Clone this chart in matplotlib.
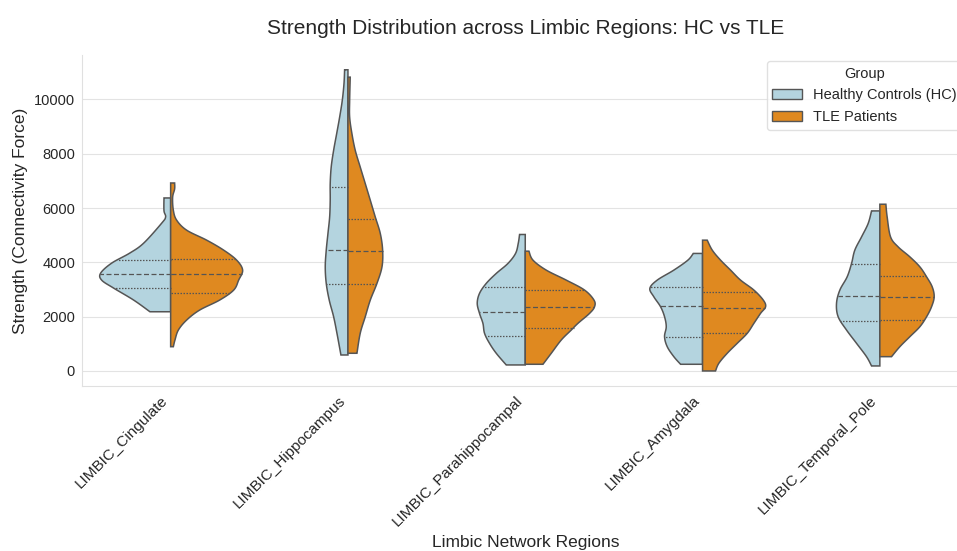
import matplotlib
matplotlib.use("Agg")
import matplotlib.pyplot as plt
from matplotlib.patches import Patch
import numpy as np
import seaborn as sns

# ── data ──────────────────────────────────────────────────────────────────────
REGIONS = [
    "LIMBIC_Cingulate",
    "LIMBIC_Hippocampus",
    "LIMBIC_Parahippocampal",
    "LIMBIC_Amygdala",
    "LIMBIC_Temporal_Pole",
]
GROUPS = ["Healthy Controls (HC)", "TLE Patients"]

# density profiles (strength level, relative density), top of range to bottom
CING_HC_Y = [6370, 5900, 5672, 5440, 4705, 4338, 3970, 3602, 3345, 3051, 2610, 2180]
CING_HC_D = [0.094, 0.094, 0.071, 0.127, 0.381, 0.578, 0.832, 0.987, 0.973, 0.804, 0.522, 0.292]
CING_TLE_Y = [6922, 6700, 6396, 5918, 5551, 5183, 4816, 4448, 4080, 3713, 3345,
              2978, 2610, 2242, 1875, 1507, 1140, 893]
CING_TLE_D = [0.056, 0.056, 0.028, 0.038, 0.085, 0.226, 0.508, 0.748, 0.931, 1.015,
              0.959, 0.889, 0.691, 0.409, 0.226, 0.109, 0.061, 0.038]

HIPP_HC_Y = [11090, 10576, 9962, 9348, 8738, 8124, 7510, 6900, 6286, 5672, 5062,
             4448, 3834, 3224, 2610, 1996, 1386, 588]
HIPP_HC_D = [0.047, 0.056, 0.080, 0.117, 0.159, 0.202, 0.236, 0.250, 0.250, 0.258,
             0.282, 0.306, 0.320, 0.306, 0.264, 0.202, 0.155, 0.099]
HIPP_TLE_Y = [10818, 9962, 9348, 8738, 8124, 7510, 6900, 6286, 5672, 5062, 4448,
              3834, 3224, 2610, 1996, 1386, 651]
HIPP_TLE_D = [0.032, 0.024, 0.024, 0.056, 0.103, 0.173, 0.244, 0.315, 0.385, 0.456,
              0.489, 0.480, 0.409, 0.315, 0.244, 0.173, 0.127]

PARA_HC_Y = [5025, 4694, 4327, 3959, 3591, 3224, 2856, 2489, 2121, 1753, 1386, 1018, 651, 221]
PARA_HC_D = [0.080, 0.099, 0.137, 0.244, 0.409, 0.550, 0.645, 0.677, 0.645, 0.597,
             0.574, 0.504, 0.409, 0.268]
PARA_TLE_Y = [4411, 4080, 3713, 3345, 2978, 2610, 2364, 2121, 1753, 1507, 1140, 651, 246]
PARA_TLE_D = [0.052, 0.109, 0.296, 0.578, 0.836, 0.969, 0.977, 0.907, 0.743, 0.649,
              0.508, 0.367, 0.250]

AMYG_HC_Y = [4327, 4080, 3713, 3345, 3040, 2731, 2364, 1996, 1628, 1261, 893, 526, 246]
AMYG_HC_D = [0.131, 0.207, 0.405, 0.639, 0.743, 0.687, 0.592, 0.536, 0.512, 0.536,
             0.498, 0.405, 0.310]
AMYG_TLE_Y = [4816, 4448, 4080, 3713, 3345, 2978, 2610, 2364, 2121, 1753, 1386,
              1018, 651, 283, 0]
AMYG_TLE_D = [0.066, 0.137, 0.254, 0.395, 0.536, 0.724, 0.856, 0.889, 0.818, 0.724,
              0.630, 0.489, 0.348, 0.230, 0.183]

TEMP_HC_Y = [5893, 5429, 4937, 4448, 3959, 3466, 2978, 2489, 1996, 1507, 1018, 526, 184]
TEMP_HC_D = [0.117, 0.165, 0.258, 0.353, 0.399, 0.461, 0.564, 0.611, 0.588, 0.470,
             0.329, 0.188, 0.117]
TEMP_TLE_Y = [6139, 5672, 4937, 4569, 4202, 3834, 3466, 3099, 2731, 2364, 1996,
              1628, 1261, 893, 526]
TEMP_TLE_D = [0.085, 0.103, 0.151, 0.258, 0.423, 0.564, 0.659, 0.738, 0.766, 0.729,
              0.659, 0.564, 0.423, 0.282, 0.165]

# quartiles (Q1, median, Q3) per region
HC_QUARTILES = [
    (3040, 3555, 4080),
    (3198, 4448, 6775),
    (1287, 2180, 3077),
    (1262, 2390, 3077),
    (1850, 2745, 3945),
]
TLE_QUARTILES = [
    (2855, 3555, 4105),
    (3187, 4411, 5588),
    (1592, 2342, 2978),
    (1386, 2316, 2904),
    (1886, 2709, 3503),
]

HC_PROFILES = [(CING_HC_Y, CING_HC_D), (HIPP_HC_Y, HIPP_HC_D), (PARA_HC_Y, PARA_HC_D),
               (AMYG_HC_Y, AMYG_HC_D), (TEMP_HC_Y, TEMP_HC_D)]
TLE_PROFILES = [(CING_TLE_Y, CING_TLE_D), (HIPP_TLE_Y, HIPP_TLE_D), (PARA_TLE_Y, PARA_TLE_D),
                (AMYG_TLE_Y, AMYG_TLE_D), (TEMP_TLE_Y, TEMP_TLE_D)]

# ── style ─────────────────────────────────────────────────────────────────────
sns.set_style("whitegrid", {"grid.color": "#e3e3e3", "axes.edgecolor": "#e0e0e0"})
plt.rcParams["font.family"] = ["Liberation Sans", "DejaVu Sans"]

HC_COL = sns.desaturate("lightblue", 0.75)
TLE_COL = sns.desaturate("darkorange", 0.75)
EDGE = "#555555"
HALF_W = 0.4


def smooth(ys, ds, n=12):
    """Catmull-Rom through the profile points."""
    P = np.column_stack([ys, ds]).astype(float)
    P = np.vstack([P[0], P, P[-1]])
    out = []
    t = np.linspace(0, 1, n, endpoint=False)[:, None]
    for i in range(1, len(P) - 2):
        p0, p1, p2, p3 = P[i - 1], P[i], P[i + 1], P[i + 2]
        out.append(0.5 * (2 * p1 + (-p0 + p2) * t
                          + (2 * p0 - 5 * p1 + 4 * p2 - p3) * t ** 2
                          + (-p0 + 3 * p1 - 3 * p2 + p3) * t ** 3))
    out.append(P[-2][None])
    S = np.vstack(out)
    S[:, 1] = np.clip(S[:, 1], 0, None)
    return S[:, 0], S[:, 1]


def draw_half(ax, pos, ys, ds, quarts, color, side):
    sy, sd = smooth(ys, ds)
    xs = pos + side * HALF_W * sd
    px = np.concatenate([[pos], xs, [pos]])
    py = np.concatenate([[sy[0]], sy, [sy[-1]]])
    ax.fill(px, py, facecolor=color, edgecolor=EDGE, lw=1.1, zorder=2)
    order = np.argsort(sy)
    for k, q in enumerate(quarts):
        w = np.interp(q, sy[order], sd[order]) * HALF_W
        ls = (0, (4, 2)) if k == 1 else (0, (1.2, 1.2))
        ax.plot([pos, pos + side * w], [q, q], color=EDGE, lw=0.9,
                linestyle=ls, zorder=3)


# ── canvas ────────────────────────────────────────────────────────────────────
fig = plt.figure(figsize=(9.57, 5.51), dpi=100)
ax = fig.add_axes([82 / 957, (551 - 386) / 551, 886.5 / 957, (386 - 55) / 551])

for i in range(len(REGIONS)):
    draw_half(ax, i, *HC_PROFILES[i], HC_QUARTILES[i], HC_COL, -1)
    draw_half(ax, i, *TLE_PROFILES[i], TLE_QUARTILES[i], TLE_COL, +1)

ax.set_xlim(-0.5, len(REGIONS) - 0.5)
ax.set_ylim(-554, 11634)
ax.set_xticks(range(len(REGIONS)))
ax.set_xticklabels(REGIONS, rotation=45, ha="right", fontsize=11)
ax.tick_params(axis="y", labelsize=10.5, pad=1.5)
ax.tick_params(axis="x", pad=2)
ax.xaxis.grid(False)
ax.set_axisbelow(True)
sns.despine(ax=ax)

ax.set_title("Strength Distribution across Limbic Regions: HC vs TLE",
             fontsize=15, pad=15)
ax.set_xlabel("Limbic Network Regions", fontsize=12.5)
ax.set_ylabel("Strength (Connectivity Force)", fontsize=12.5)

handles = [Patch(facecolor=HC_COL, edgecolor=EDGE, lw=1.0),
           Patch(facecolor=TLE_COL, edgecolor=EDGE, lw=1.0)]
leg = ax.legend(handles, GROUPS, title="Group", fontsize=10.5, title_fontsize=10.5,
                loc="upper right", bbox_to_anchor=(970 / 957, 1 - 54 / 551),
                bbox_transform=fig.transFigure)
leg.get_frame().set_edgecolor("#d9d9d9")

fig.savefig("out.png", dpi=100, facecolor="white")
